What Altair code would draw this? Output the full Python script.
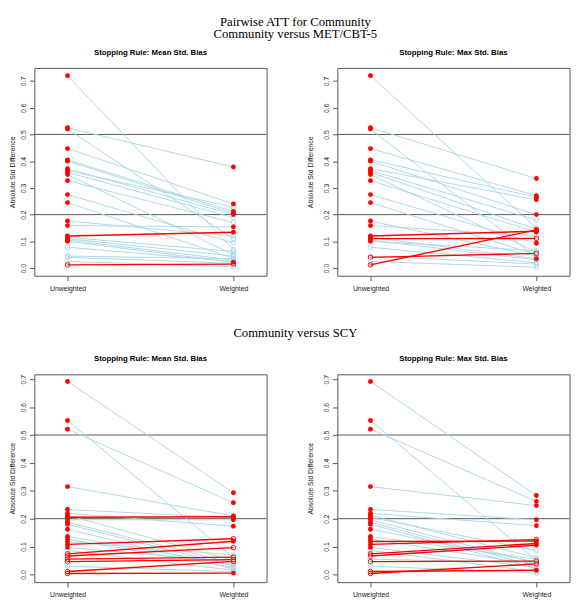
import altair as alt
import pandas as pd

# ---- Community versus MET/CBT-5 ----
U_TOP = [0.720, 0.525, 0.520, 0.447, 0.405, 0.400, 0.372, 0.365, 0.358, 0.350,
         0.327, 0.275, 0.245, 0.176, 0.159, 0.120, 0.115, 0.110, 0.105, 0.100,
         0.078, 0.045, 0.040, 0.025, 0.012]
SIG_U_TOP = [True] * 20 + [False] * 5
W_TOP_MEAN = [0.069, 0.378, 0.110, 0.240, 0.212, 0.205, 0.200, 0.228, 0.189, 0.050,
              0.170, 0.094, 0.037, 0.120, 0.154, 0.134, 0.062, 0.045, 0.030, 0.022,
              0.025, 0.035, 0.018, 0.005, 0.015]
SIG_W_TOP_MEAN = [False, True, False, True, True, True, True, False, False, False,
                  False, False, False, False, True, True, False, False, False, True,
                  False, False, False, False, False]
W_TOP_MAX = [0.150, 0.335, 0.040, 0.271, 0.265, 0.200, 0.256, 0.180, 0.145, 0.060,
             0.135, 0.093, 0.050, 0.045, 0.120, 0.138, 0.035, 0.111, 0.030, 0.065,
             0.020, 0.015, 0.055, 0.003, 0.143]
SIG_W_TOP_MAX = [False, True, False, True, True, True, True, False, True, False,
                 True, True, False, False, False, True, True, False, False, False,
                 False, False, False, False, True]

# ---- Community versus SCY ----
U_BOT = [0.692, 0.552, 0.521, 0.315, 0.233, 0.219, 0.212, 0.205, 0.196, 0.187,
         0.180, 0.162, 0.136, 0.127, 0.118, 0.108, 0.097, 0.086, 0.074, 0.066,
         0.055, 0.046, 0.030, 0.0105, 0.0035]
SIG_U_BOT = [True] * 17 + [False] * 8
W_BOT_MEAN = [0.293, 0.060, 0.257, 0.210, 0.203, 0.173, 0.050, 0.207, 0.196, 0.040,
              0.030, 0.020, 0.035, 0.025, 0.070, 0.128, 0.045, 0.015, 0.119, 0.096,
              0.062, 0.053, 0.010, 0.047, 0.005]
SIG_W_BOT_MEAN = [True, False, True, True, True, True, False, True, True, False,
                  False, False, False, False, False, False, False, False, True, False,
                  False, False, False, False, True]
W_BOT_MAX = [0.283, 0.050, 0.262, 0.247, 0.196, 0.175, 0.060, 0.085, 0.040, 0.030,
             0.020, 0.045, 0.055, 0.035, 0.120, 0.125, 0.025, 0.010, 0.111, 0.105,
             0.042, 0.048, 0.005, 0.015, 0.038]
SIG_W_BOT_MAX = [True, False, True, True, True, True, False, False, False, False,
                 False, False, False, False, True, False, False, False, True, True,
                 False, False, False, True, False]

Y_TICKS = [0.0, 0.1, 0.2, 0.3, 0.4, 0.5, 0.6, 0.7]
REF_LINES = [0.2, 0.5]
X_LABELS = ["Unweighted", "Weighted"]

BLUE = "#add8e6"
RED = "#ff0000"
GRAY = "#555555"


def build_df(U, W, sigU, sigW):
    rows = []
    for i, (u, w, su, sw) in enumerate(zip(U, W, sigU, sigW)):
        d = "inc" if w > u else "dec"
        rows.append(dict(cov=i, x=1, v=u, sig=su, dir=d))
        rows.append(dict(cov=i, x=2, v=w, sig=sw, dir=d))
    return pd.DataFrame(rows)


def panel(df, ydom, title, title_pad, title_offset):
    xenc = alt.X(
        "x:Q",
        scale=alt.Scale(domain=[0.8, 2.2], nice=False, zero=False),
        axis=alt.Axis(values=[1, 2],
                      labelExpr=f"datum.value == 1 ? '{X_LABELS[0]}' : '{X_LABELS[1]}'",
                      title=None, grid=False, domain=False, tickSize=5,
                      labelPadding=4, labelOverlap=False),
    )
    yenc = alt.Y(
        "v:Q",
        scale=alt.Scale(domain=ydom, nice=False, zero=False),
        axis=alt.Axis(values=Y_TICKS, format=".1f", title="Absolute Std Difference",
                      titlePadding=title_pad, labelAngle=270, labelAlign="center",
                      labelBaseline="bottom", tickSize=5, labelPadding=3.5,
                      grid=False, domain=False, labelOverlap=False),
    )
    base = alt.Chart(df)
    rules = alt.Chart(pd.DataFrame({"v": REF_LINES})).mark_rule(
        color=GRAY, strokeWidth=1).encode(y=yenc)
    blue = base.transform_filter("datum.dir == 'dec'").mark_line(
        color=BLUE, strokeWidth=1).encode(x=xenc, y=yenc, detail="cov:N")
    red = base.transform_filter("datum.dir == 'inc'").mark_line(
        color=RED, strokeWidth=1.4).encode(x=xenc, y=yenc, detail="cov:N")
    hollow = base.transform_filter("!datum.sig").mark_point(
        shape="circle", filled=False, size=22, strokeWidth=1, opacity=1).encode(
        x=xenc, y=yenc,
        color=alt.Color("dir:N", scale=alt.Scale(domain=["dec", "inc"], range=[BLUE, RED]),
                        legend=None))
    filled = base.transform_filter("datum.sig").mark_circle(
        color=RED, size=25, opacity=1).encode(x=xenc, y=yenc)
    return alt.layer(rules, blue, red, hollow, filled).properties(
        width=238, height=213,
        title=alt.TitleParams(text=title, font="Liberation Sans", fontSize=8,
                              fontWeight="bold", anchor="middle", frame="group",
                              offset=title_offset, color="black"),
    )


TOP_DOM = [-0.0288, 0.7488]
BOT_DOM = [-0.0276, 0.7176]

p1 = panel(build_df(U_TOP, W_TOP_MEAN, SIG_U_TOP, SIG_W_TOP_MEAN), TOP_DOM,
           "Stopping Rule: Mean Std. Bias", 3.5, 11)
p2 = panel(build_df(U_TOP, W_TOP_MAX, SIG_U_TOP, SIG_W_TOP_MAX), TOP_DOM,
           "Stopping Rule: Max Std. Bias", 9, 11)
p3 = panel(build_df(U_BOT, W_BOT_MEAN, SIG_U_BOT, SIG_W_BOT_MEAN), BOT_DOM,
           "Stopping Rule: Mean Std. Bias", 3.5, 12)
p4 = panel(build_df(U_BOT, W_BOT_MAX, SIG_U_BOT, SIG_W_BOT_MAX), BOT_DOM,
           "Stopping Rule: Max Std. Bias", 9, 12)

row1 = alt.hconcat(p1, p2, spacing=38.5).properties(
    title=alt.TitleParams(text="Pairwise ATT for Community",
                          subtitle="Community versus MET/CBT-5",
                          font="Liberation Serif", fontSize=13, fontWeight="normal",
                          subtitleFont="Liberation Serif", subtitleFontSize=13,
                          subtitleFontWeight="normal", subtitleColor="black",
                          subtitlePadding=0, anchor="middle", frame="bounds",
                          offset=8, dx=6, color="black"))
row2 = alt.hconcat(p3, p4, spacing=38.5).properties(
    title=alt.TitleParams(text="Community versus SCY", font="Liberation Serif",
                          fontSize=13, fontWeight="normal", anchor="middle",
                          frame="bounds", offset=15, dx=6, color="black"))

chart = alt.vconcat(row1, row2, spacing=35).properties(
    padding={"left": 0, "right": 0, "top": 0, "bottom": 0}
).configure_view(stroke=GRAY, strokeWidth=1).configure_axis(
    labelFont="Liberation Sans", labelFontSize=7, labelColor="#222222",
    titleFont="Liberation Sans", titleFontSize=7, titleFontWeight="normal",
    titleColor="#222222", tickColor=GRAY, tickWidth=1,
)

chart.save("out.html", embed_options={"renderer": "svg", "actions": False})
